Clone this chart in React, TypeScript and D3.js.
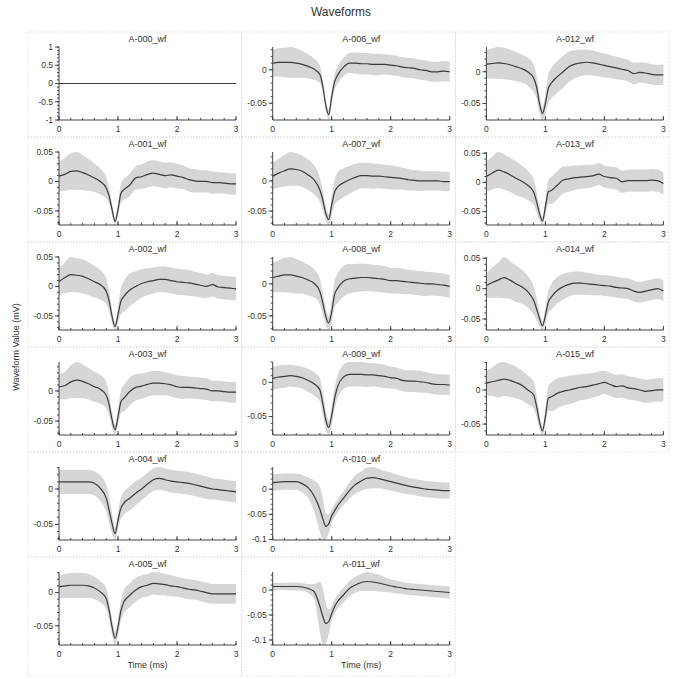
import React from "react";
import * as d3 from "d3";

// Sample times (ms)
const times = [0, 0.1, 0.2, 0.3, 0.4, 0.5, 0.6, 0.7, 0.8, 0.85, 0.9, 0.95, 1.0, 1.05, 1.1, 1.2, 1.3, 1.4, 1.5, 1.6, 1.7, 1.8, 1.9, 2.0, 2.1, 2.2, 2.3, 2.4, 2.5, 2.6, 2.7, 2.8, 2.9, 3.0];

const channelNames = [
  "A-000_wf", "A-001_wf", "A-002_wf", "A-003_wf", "A-004_wf", "A-005_wf",
  "A-006_wf", "A-007_wf", "A-008_wf", "A-009_wf", "A-010_wf", "A-011_wf",
  "A-012_wf", "A-013_wf", "A-014_wf", "A-015_wf",
];

const xTicks = [0, 1, 2, 3];

const mean000 = [0,0,0,0,0,0,0,0,0,0,0,0,0,0,0,0,0,0,0,0,0,0,0,0,0,0,0,0,0,0,0,0,0,0];
const sd000 = [0,0,0,0,0,0,0,0,0,0,0,0,0,0,0,0,0,0,0,0,0,0,0,0,0,0,0,0,0,0,0,0,0,0];

const mean001 = [0.009,0.012,0.017,0.018,0.015,0.011,0.006,0.000,-0.011,-0.025,-0.048,-0.068,-0.048,-0.020,-0.014,-0.006,0.006,0.008,0.012,0.014,0.012,0.010,0.011,0.009,0.007,0.003,0.001,0.000,0.000,-0.002,-0.002,-0.003,-0.004,-0.004];
const sd001 = [0.026,0.028,0.031,0.032,0.030,0.027,0.024,0.022,0.018,0.014,0.010,0.006,0.010,0.016,0.018,0.019,0.020,0.021,0.022,0.022,0.022,0.022,0.021,0.021,0.020,0.020,0.020,0.019,0.019,0.019,0.018,0.018,0.018,0.018];

const mean002 = [0.008,0.015,0.020,0.019,0.017,0.013,0.008,0.003,-0.008,-0.025,-0.051,-0.068,-0.048,-0.025,-0.017,-0.006,0.000,0.005,0.008,0.010,0.012,0.012,0.010,0.008,0.007,0.006,0.004,0.002,0.000,0.003,-0.001,-0.002,-0.003,-0.004];
const sd002 = [0.022,0.026,0.030,0.029,0.029,0.028,0.027,0.025,0.022,0.017,0.011,0.006,0.014,0.022,0.026,0.028,0.026,0.024,0.023,0.022,0.022,0.022,0.022,0.022,0.022,0.022,0.021,0.021,0.020,0.020,0.020,0.020,0.020,0.020];

const mean003 = [0.007,0.009,0.015,0.018,0.016,0.012,0.007,0.003,-0.007,-0.023,-0.048,-0.064,-0.043,-0.018,-0.012,-0.001,0.006,0.008,0.011,0.013,0.013,0.012,0.010,0.007,0.006,0.006,0.005,0.004,0.003,0.000,0.000,-0.001,-0.002,-0.002];
const sd003 = [0.020,0.023,0.027,0.030,0.028,0.026,0.025,0.024,0.022,0.017,0.013,0.009,0.014,0.019,0.022,0.023,0.022,0.021,0.020,0.020,0.020,0.019,0.019,0.019,0.019,0.018,0.018,0.018,0.018,0.017,0.017,0.017,0.017,0.017];

const mean004 = [0.010,0.010,0.010,0.010,0.010,0.010,0.008,0.001,-0.013,-0.030,-0.049,-0.063,-0.044,-0.027,-0.020,-0.013,-0.006,0.000,0.007,0.013,0.015,0.013,0.011,0.010,0.009,0.008,0.006,0.004,0.002,0.000,-0.001,-0.002,-0.003,-0.004];
const sd004 = [0.017,0.017,0.017,0.017,0.017,0.017,0.017,0.018,0.019,0.018,0.014,0.009,0.012,0.015,0.016,0.017,0.017,0.016,0.016,0.016,0.016,0.016,0.016,0.016,0.016,0.016,0.016,0.016,0.016,0.015,0.015,0.015,0.015,0.015];

const mean005 = [0.009,0.010,0.011,0.011,0.011,0.010,0.007,0.001,-0.009,-0.027,-0.052,-0.069,-0.052,-0.027,-0.014,-0.004,0.004,0.009,0.011,0.014,0.013,0.012,0.010,0.009,0.007,0.005,0.004,0.002,0.000,-0.002,-0.002,-0.002,-0.002,-0.002];
const sd005 = [0.017,0.018,0.019,0.019,0.019,0.018,0.017,0.016,0.016,0.014,0.012,0.010,0.012,0.015,0.017,0.018,0.018,0.017,0.017,0.017,0.017,0.016,0.016,0.015,0.015,0.015,0.015,0.015,0.015,0.015,0.015,0.015,0.015,0.015];

const mean006 = [0.010,0.011,0.011,0.011,0.010,0.008,0.005,0.001,-0.007,-0.025,-0.053,-0.067,-0.040,-0.018,-0.008,0.004,0.010,0.010,0.009,0.009,0.008,0.008,0.008,0.007,0.006,0.004,0.003,0.002,0.000,-0.001,-0.003,-0.003,-0.002,-0.003];
const sd006 = [0.020,0.021,0.022,0.023,0.022,0.020,0.018,0.016,0.013,0.010,0.008,0.008,0.010,0.012,0.013,0.014,0.015,0.016,0.016,0.016,0.016,0.016,0.015,0.015,0.015,0.015,0.015,0.015,0.015,0.015,0.015,0.015,0.015,0.015];

const mean007 = [0.008,0.013,0.017,0.020,0.019,0.016,0.010,0.002,-0.015,-0.032,-0.054,-0.064,-0.040,-0.018,-0.010,-0.003,0.002,0.006,0.009,0.009,0.008,0.008,0.007,0.006,0.005,0.004,0.002,0.001,0.000,0.000,0.000,0.000,-0.001,-0.001];
const sd007 = [0.022,0.024,0.026,0.028,0.027,0.026,0.025,0.024,0.020,0.016,0.012,0.009,0.016,0.021,0.024,0.024,0.023,0.022,0.021,0.021,0.021,0.020,0.020,0.020,0.019,0.018,0.018,0.017,0.017,0.016,0.016,0.016,0.016,0.016];

const mean008 = [0.010,0.012,0.014,0.014,0.012,0.010,0.006,0.001,-0.012,-0.030,-0.051,-0.061,-0.043,-0.016,-0.007,0.004,0.008,0.009,0.010,0.010,0.009,0.008,0.007,0.005,0.005,0.004,0.003,0.002,0.001,0.000,0.000,-0.001,-0.002,-0.004];
const sd008 = [0.023,0.025,0.027,0.028,0.027,0.025,0.024,0.022,0.020,0.017,0.013,0.011,0.016,0.021,0.023,0.024,0.023,0.022,0.022,0.021,0.021,0.021,0.021,0.020,0.020,0.020,0.019,0.019,0.019,0.019,0.018,0.018,0.018,0.018];

const mean009 = [0.006,0.008,0.009,0.010,0.009,0.007,0.003,-0.002,-0.011,-0.031,-0.055,-0.066,-0.048,-0.023,-0.006,0.008,0.012,0.012,0.012,0.011,0.011,0.010,0.009,0.007,0.006,0.003,0.002,0.002,0.001,0.000,-0.002,-0.003,-0.003,-0.004];
const sd009 = [0.017,0.017,0.017,0.016,0.016,0.016,0.017,0.017,0.017,0.016,0.014,0.011,0.014,0.016,0.017,0.018,0.018,0.018,0.018,0.018,0.017,0.017,0.017,0.016,0.016,0.016,0.016,0.016,0.016,0.015,0.015,0.015,0.015,0.015];

const mean010 = [0.013,0.014,0.015,0.015,0.015,0.011,0.003,-0.013,-0.040,-0.059,-0.074,-0.069,-0.053,-0.043,-0.033,-0.018,-0.003,0.009,0.016,0.022,0.023,0.021,0.018,0.015,0.012,0.009,0.006,0.004,0.002,0.000,-0.001,-0.002,-0.003,-0.003];
const sd010 = [0.016,0.016,0.016,0.016,0.016,0.017,0.020,0.030,0.045,0.042,0.026,0.018,0.014,0.013,0.013,0.014,0.016,0.018,0.019,0.021,0.021,0.019,0.018,0.018,0.017,0.017,0.016,0.016,0.016,0.016,0.016,0.016,0.016,0.016];

const mean011 = [0.007,0.007,0.007,0.007,0.007,0.006,0.003,-0.003,-0.033,-0.053,-0.067,-0.063,-0.047,-0.033,-0.023,-0.010,0.003,0.010,0.015,0.017,0.016,0.014,0.011,0.008,0.006,0.004,0.002,0.001,0.000,-0.001,-0.002,-0.003,-0.004,-0.005];
const sd011 = [0.007,0.007,0.007,0.008,0.008,0.008,0.009,0.015,0.050,0.057,0.040,0.025,0.015,0.014,0.014,0.015,0.015,0.016,0.017,0.019,0.018,0.017,0.015,0.013,0.013,0.012,0.012,0.012,0.012,0.012,0.012,0.012,0.012,0.012];

const mean012 = [0.012,0.013,0.014,0.013,0.011,0.008,0.005,0.000,-0.010,-0.024,-0.050,-0.066,-0.050,-0.026,-0.018,-0.008,0.000,0.008,0.012,0.014,0.015,0.014,0.012,0.010,0.008,0.006,0.004,0.002,-0.003,-0.001,-0.002,-0.004,-0.005,-0.005];
const sd012 = [0.022,0.024,0.025,0.025,0.024,0.023,0.022,0.022,0.022,0.018,0.014,0.010,0.016,0.022,0.024,0.025,0.025,0.024,0.022,0.021,0.020,0.020,0.019,0.019,0.018,0.018,0.017,0.017,0.017,0.016,0.016,0.016,0.016,0.016];

const mean013 = [0.010,0.016,0.021,0.018,0.013,0.007,0.002,-0.005,-0.016,-0.033,-0.053,-0.066,-0.042,-0.016,-0.014,-0.005,0.004,0.006,0.008,0.009,0.010,0.011,0.014,0.010,0.008,0.007,0.001,0.003,0.003,0.003,0.003,0.004,0.003,-0.002];
const sd013 = [0.026,0.028,0.031,0.030,0.029,0.029,0.027,0.025,0.022,0.018,0.012,0.007,0.014,0.020,0.023,0.024,0.023,0.022,0.021,0.020,0.020,0.019,0.019,0.019,0.019,0.019,0.019,0.019,0.019,0.019,0.019,0.019,0.019,0.019];

const mean014 = [0.005,0.010,0.014,0.018,0.014,0.008,0.003,-0.005,-0.019,-0.033,-0.049,-0.061,-0.044,-0.022,-0.014,-0.003,0.003,0.007,0.009,0.009,0.008,0.007,0.006,0.005,0.004,0.002,0.001,0.000,-0.004,-0.006,-0.004,-0.002,0.000,-0.004];
const sd014 = [0.020,0.025,0.029,0.034,0.031,0.030,0.028,0.026,0.023,0.018,0.012,0.007,0.013,0.018,0.021,0.022,0.021,0.020,0.019,0.019,0.018,0.018,0.017,0.017,0.017,0.017,0.017,0.017,0.017,0.017,0.017,0.017,0.017,0.017];

const mean015 = [0.010,0.012,0.014,0.016,0.014,0.011,0.007,0.000,-0.007,-0.024,-0.046,-0.060,-0.039,-0.012,-0.010,-0.005,-0.002,0.000,0.002,0.004,0.005,0.007,0.009,0.011,0.008,0.005,0.006,0.003,0.002,0.000,-0.002,-0.001,0.000,0.000];
const sd015 = [0.018,0.021,0.025,0.025,0.024,0.023,0.022,0.021,0.020,0.016,0.011,0.006,0.012,0.018,0.021,0.022,0.021,0.021,0.020,0.019,0.019,0.018,0.018,0.017,0.017,0.017,0.017,0.017,0.017,0.017,0.017,0.017,0.017,0.017];

const means = [mean000, mean001, mean002, mean003, mean004, mean005, mean006, mean007, mean008, mean009, mean010, mean011, mean012, mean013, mean014, mean015];
const sds = [sd000, sd001, sd002, sd003, sd004, sd005, sd006, sd007, sd008, sd009, sd010, sd011, sd012, sd013, sd014, sd015];

const FONT = "'Liberation Sans', Arial, sans-serif";
const ROWS = 6;
const CELL_X0 = 28;
const CELL_Y0 = 32;
const CELL_W = 213.7;
const CELL_H = 105;
const PLOT_DX = 31;
const PLOT_DY = 15;
const PLOT_W = 177;
const PLOT_H = 73;

const fmt = (v: number) => String(+v.toFixed(4));

function Panel({ idx }: { idx: number }) {
  const col = Math.floor(idx / ROWS);
  const row = idx % ROWS;
  const cx = CELL_X0 + col * CELL_W;
  const cy = CELL_Y0 + row * CELL_H;
  const px = cx + PLOT_DX;
  const py = cy + PLOT_DY;
  const mean = means[idx];
  const sd = sds[idx];
  const lower = mean.map((m, i) => m - sd[i]);
  const upper = mean.map((m, i) => m + sd[i]);
  let lo = d3.min(lower) as number;
  let hi = d3.max(upper) as number;
  if (hi - lo < 1e-9) {
    lo -= 1;
    hi += 1;
  }
  const x = d3.scaleLinear().domain([0, 3]).range([px, px + PLOT_W]);
  const y = d3.scaleLinear().domain([lo, hi]).range([py + PLOT_H, py]);
  const yTicks = y.ticks(3);
  const step = d3.tickStep(lo, hi, 3);
  const m = step / 5;
  const yMinor = d3.range(Math.ceil(lo / m - 1e-6), Math.floor(hi / m + 1e-6) + 1).map((k) => k * m);
  const xMinor = d3.range(0, 16).map((k) => k * 0.2);

  const area = d3
    .area<number>()
    .curve(d3.curveMonotoneX)
    .x((_, i) => x(times[i]))
    .y0((_, i) => y(lower[i]))
    .y1((_, i) => y(upper[i]));
  const line = d3
    .line<number>()
    .curve(d3.curveMonotoneX)
    .x((_, i) => x(times[i]))
    .y((d) => y(d));

  const axisColor = "#444";
  const textColor = "#333";
  const bottom = py + PLOT_H;
  const isBottomRow = row === ROWS - 1;
  const cellH = isBottomRow ? CELL_H + 14 : CELL_H;

  return (
    <g>
      <rect x={cx} y={cy} width={CELL_W} height={cellH} fill="none" stroke="#d4d4d4" strokeWidth={1} strokeDasharray="1,2" />
      <text x={px + PLOT_W / 2} y={cy + 10} textAnchor="middle" fontSize={9} fill={textColor} fontFamily={FONT}>
        {channelNames[idx]}
      </text>
      <path d={area(mean) || ""} fill="#d6d6d6" stroke="none" />
      <path d={line(mean) || ""} fill="none" stroke="#3a3a3a" strokeWidth={1.2} />
      {/* y axis */}
      <line x1={px} x2={px} y1={py} y2={bottom} stroke={axisColor} strokeWidth={1} />
      {yMinor.map((v, i) => (
        <line key={"ym" + i} x1={px - 2} x2={px} y1={y(v)} y2={y(v)} stroke={axisColor} strokeWidth={1} />
      ))}
      {yTicks.map((v, i) => (
        <g key={"yt" + i}>
          <line x1={px - 4} x2={px} y1={y(v)} y2={y(v)} stroke={axisColor} strokeWidth={1} />
          <text x={px - 6} y={y(v)} dy="0.33em" textAnchor="end" fontSize={8.5} fill={textColor} fontFamily={FONT}>
            {fmt(v)}
          </text>
        </g>
      ))}
      {/* x axis */}
      <line x1={px} x2={px + PLOT_W} y1={bottom} y2={bottom} stroke={axisColor} strokeWidth={1} />
      {xMinor.map((v, i) => (
        <line key={"xm" + i} x1={x(v)} x2={x(v)} y1={bottom - 2} y2={bottom} stroke={axisColor} strokeWidth={1} />
      ))}
      {xTicks.map((v, i) => (
        <g key={"xt" + i}>
          <line x1={x(v)} x2={x(v)} y1={bottom - 4} y2={bottom} stroke={axisColor} strokeWidth={1} />
          <text x={x(v)} y={bottom + 12} textAnchor="middle" fontSize={8.5} fill={textColor} fontFamily={FONT}>
            {fmt(v)}
          </text>
        </g>
      ))}
      {isBottomRow && (
        <text x={px + PLOT_W / 2} y={bottom + 23} textAnchor="middle" fontSize={9} fill={textColor} fontFamily={FONT}>
          Time (ms)
        </text>
      )}
    </g>
  );
}

export default function App() {
  return (
    <svg
      width={683}
      height={679}
      style={{ position: "absolute", left: 0, top: 0, display: "block", background: "#fff" }}
    >
      <rect x={0} y={0} width={683} height={679} fill="#fff" />
      <text x={341} y={16} textAnchor="middle" fontSize={12} fill="#333" fontFamily={FONT}>
        Waveforms
      </text>
      <text
        transform="translate(19,347) rotate(-90)"
        textAnchor="middle"
        fontSize={9}
        fill="#333"
        fontFamily={FONT}
      >
        Waveform Value (mV)
      </text>
      {channelNames.map((_, i) => (
        <Panel key={i} idx={i} />
      ))}
    </svg>
  );
}
